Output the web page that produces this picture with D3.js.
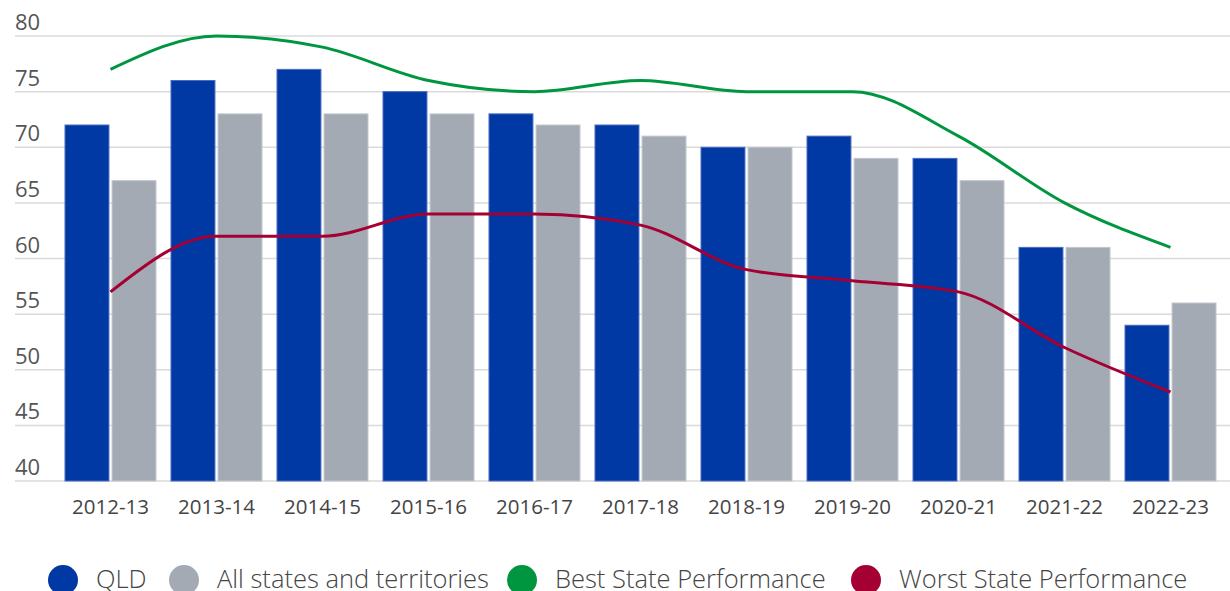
<!DOCTYPE html>
<html>
<head>
<meta charset="utf-8">
<script src="https://cdn.jsdelivr.net/npm/d3@7"></script>
<style>
  body { margin: 0; background: #fff; }
  text { font-family: "Open Sans", "Noto Sans", sans-serif; }
</style>
</head>
<body>
<script>
// chart values
var years = ["2012-13","2013-14","2014-15","2015-16","2016-17","2017-18","2018-19","2019-20","2020-21","2021-22","2022-23"];
var qld = [72, 76, 77, 75, 73, 72, 70, 71, 69, 61, 54];
var allStates = [67, 73, 73, 73, 72, 71, 70, 69, 67, 61, 56];
var best = [77, 80, 79, 76, 75, 76, 75, 75, 71, 65, 61];
var worst = [57, 62, 62, 64, 64, 63, 59, 58, 57, 52, 48];
var yTicks = [40, 45, 50, 55, 60, 65, 70, 75, 80];
var legendNames = ["QLD", "All states and territories", "Best State Performance", "Worst State Performance"];

var width = 1230, height = 591;

var svg = d3.select("body").append("svg")
  .attr("width", width)
  .attr("height", height);

var y = d3.scaleLinear().domain([40, 80]).range([481, 36]);

var x = d3.scaleBand()
  .domain(years)
  .range([57.5, 1223.5])
  .paddingInner(0.1415)
  .paddingOuter(0.0707);

var xSub = d3.scaleBand()
  .domain(["qld", "all"])
  .range([0, x.bandwidth()])
  .paddingInner(0.066);

// gridlines + labels sitting above the line
var grid = svg.append("g");
grid.selectAll("line")
  .data(yTicks)
  .enter()
  .append("line")
  .attr("x1", 15)
  .attr("x2", width)
  .attr("y1", function(d){ return y(d); })
  .attr("y2", function(d){ return y(d); })
  .attr("stroke", "#dadada")
  .attr("stroke-width", 1.5);

grid.selectAll("text")
  .data(yTicks)
  .enter()
  .append("text")
  .attr("x", 15)
  .attr("y", function(d){ return y(d) - 6; })
  .attr("font-size", 22)
  .attr("fill", "#555")
  .text(function(d){ return d; });

// bars
var rows = years.map(function(yr, i){
  return {year: yr, qld: qld[i], all: allStates[i]};
});

var colors = {qld: "#0038a4", all: "#a3aab4"};
var strokes = {qld: "#4a6cc0", all: "#c2c7ce"};

var groups = svg.selectAll(".grp")
  .data(rows)
  .enter()
  .append("g")
  .attr("class", "grp")
  .attr("transform", function(d){ return "translate(" + x(d.year) + ",0)"; });

groups.selectAll("rect")
  .data(function(d){ return ["qld", "all"].map(function(k){ return {key: k, value: d[k]}; }); })
  .enter()
  .append("rect")
  .attr("x", function(d){ return xSub(d.key); })
  .attr("y", function(d){ return y(d.value); })
  .attr("width", xSub.bandwidth())
  .attr("height", function(d){ return y(40) - y(d.value); })
  .attr("fill", function(d){ return colors[d.key]; })
  .attr("stroke", function(d){ return strokes[d.key]; })
  .attr("stroke-width", 1);

// lines through category centres
var line = d3.line()
  .x(function(d, i){ return x(years[i]) + x.bandwidth() / 2; })
  .y(function(d){ return y(d); })
  .curve(d3.curveMonotoneX);

svg.append("path")
  .datum(best)
  .attr("d", line)
  .attr("fill", "none")
  .attr("stroke", "#00963f")
  .attr("stroke-width", 3);

svg.append("path")
  .datum(worst)
  .attr("d", line)
  .attr("fill", "none")
  .attr("stroke", "#a50034")
  .attr("stroke-width", 3);

// x labels
svg.selectAll(".xlab")
  .data(years)
  .enter()
  .append("text")
  .attr("class", "xlab")
  .attr("x", function(d){ return x(d) + x.bandwidth() / 2; })
  .attr("y", 514)
  .attr("text-anchor", "middle")
  .attr("font-size", 20.5)
  .attr("fill", "#444")
  .text(function(d){ return d; });

// legend (sits at the bottom edge, as in the original)
var legendColors = ["#0038a4", "#a3aab4", "#00963f", "#a50034"];
var legendX = [63, 184, 522, 866];

var legend = svg.selectAll(".leg")
  .data(legendNames)
  .enter()
  .append("g")
  .attr("class", "leg")
  .attr("transform", function(d, i){ return "translate(" + legendX[i] + ",580)"; });

legend.append("circle")
  .attr("r", 15)
  .attr("fill", function(d, i){ return legendColors[i]; });

legend.append("text")
  .attr("x", 33)
  .attr("y", 8)
  .attr("font-size", 25.5)
  .attr("font-weight", 300)
  .attr("fill", "#444")
  .text(function(d){ return d; });
</script>
</body>
</html>
